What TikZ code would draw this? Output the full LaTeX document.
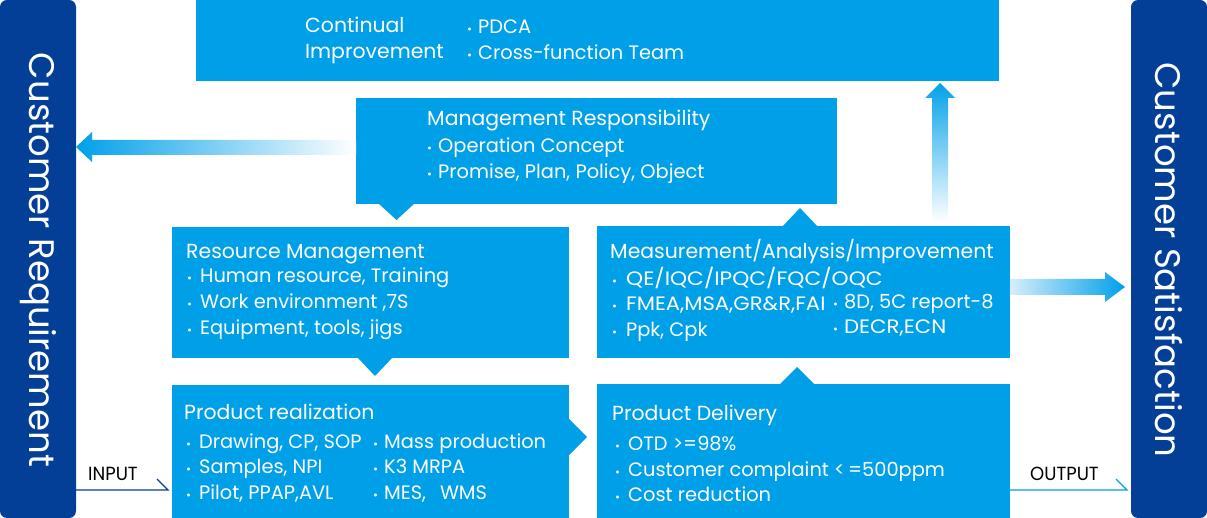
\documentclass[tikz,border=0pt]{standalone}
\usepackage{fontspec}
\setmainfont{Poppins}
\usetikzlibrary{calc}
\definecolor{cblue}{HTML}{00A0E9}
\definecolor{dblue}{HTML}{043F97}
\definecolor{lblue}{HTML}{D6EEFB}
\newcommand{\bu}[1][5pt]{{\fontsize{12}{12}\selectfont\textbullet}\hspace{#1}}
\newcommand{\wide}[2]{\scalebox{#1}[1]{#2}}
\begin{document}
\begin{tikzpicture}[x=1pt,y=-1pt,
  box/.style={fill=cblue, draw=none, inner sep=0pt, outer sep=0pt, anchor=north west},
  bar/.style={fill=dblue, draw=none, inner sep=0pt, outer sep=0pt, anchor=north west, rounded corners=7pt, minimum width=76pt, minimum height=518pt},
  bartxt/.style={text=white, rotate=-90, font=\fontsize{35.5}{40}\selectfont, inner sep=0pt},
  tt/.style={text=white, anchor=base west, inner sep=0pt, font=\fontsize{20.4}{24}\selectfont},
  it/.style={text=white, anchor=base west, inner sep=0pt, font=\fontsize{19.4}{24}\selectfont},
  lab/.style={text=black, anchor=base west, inner sep=0pt, font=\fontsize{19}{22}\selectfont},
  tri/.style={fill=cblue, draw=none}
]
\useasboundingbox (0,0) rectangle (1207,518);

% side bars
\node[bar] (lbar) at (0,0) {};
\node[bar] (rbar) at (1131,0) {};
\node[bartxt] (lbt) at (38,260) {Customer Requirement};
\node[bartxt] (rbt) at (1169,260) {Customer Satisfaction};

% boxes
\node[box, minimum width=803pt, minimum height=81pt] (ci) at (196,0) {};
\node[box, minimum width=481pt, minimum height=106pt] (mr) at (356,98) {};
\node[box, minimum width=397pt, minimum height=131pt] (rm) at (172,227) {};
\node[box, minimum width=413pt, minimum height=132pt] (mai) at (597,226) {};
\node[box, minimum width=397pt, minimum height=133pt] (pr) at (172,385) {};
\node[box, minimum width=413pt, minimum height=134pt] (pd) at (597,384) {};

% pointer triangles
\fill[tri] (378,203) -- (415,203) -- (396.5,220) -- cycle;
\fill[tri] (357,357) -- (393,357) -- (375,376) -- cycle;
\fill[tri] (782,227) -- (818,227) -- (800,208) -- cycle;
\fill[tri] (568,418) -- (587,437) -- (568,456) -- cycle;
\fill[tri] (779,385) -- (815,385) -- (797,367) -- cycle;

% gradient arrows
\shade[left color=cblue, right color=white]
  (lbar.east |- 0,147) -- (92,132) -- (92,140) -- (mr.west |- 0,140) -- (mr.west |- 0,155) -- (92,155) -- (92,162) -- cycle;
\shade[top color=cblue, bottom color=white]
  (ci.south -| 940,0) ++(0,2) -- (955,98) -- (948,98) -- (948,222) -- (932,222) -- (932,98) -- (925,98) -- cycle;
\coordinate (rtip) at ($(rbar.west |- 0,287)+(-6,0)$);
\shade[left color=lblue, right color=cblue]
  (mai.east |- 0,279) -- (1105,279) -- (1105,272) -- (rtip) -- (1105,302) -- (1105,295) -- (mai.east |- 0,295) -- cycle;

% input / output
\draw[dblue, line width=1.3pt] (lbar.east |- 0,490) -- ($(pr.west |- 0,490)+(-4,0)$) -- ++(-11,-11);
\draw[cblue, line width=1.3pt] (pd.east |- 0,490) -- ($(rbar.west |- 0,490)+(-4,0)$) -- ++(-11,-11);
\node[lab] (inl) at (88,480) {\wide{0.95}{INPUT}};
\node[lab] (outl) at (1030,480) {\wide{0.95}{OUTPUT}};

% texts: continual improvement
\node[tt] (ci1) at (305,33) {Continual};
\node[tt] (ci2) at (305,59) {Improvement};
\node[it] (ci3) at (467,34) {\bu[6pt]PDCA};
\node[it] (ci4) at (467,60) {\bu[6pt]Cross-function Team};

% management responsibility
\node[tt] (mr1) at (427,126) {Management Responsibility};
\node[it] (mr2) at (427,153) {\bu[6pt]Operation Concept};
\node[it] (mr3) at (427,179) {\bu[6pt]Promise, Plan, Policy, Object};

% resource management
\node[tt] (rm1) at (186,259) {Resource Management};
\node[it] (rm2) at (187,283) {\bu[8pt]Human resource, Training};
\node[it] (rm3) at (187,309) {\bu[8pt]Work environment ,7S};
\node[it] (rm4) at (187,335) {\bu[8pt]Equipment, tools, jigs};

% measurement
\node[tt] (ma1) at (610,259) {Measurement/Analysis/Improvement};
\node[it] (ma2) at (612,286) {\bu[9pt]\wide{1.12}{QE/IQC/IPQC/FQC/OQC}};
\node[it] (ma3) at (612,311) {\bu[9pt]\wide{1.09}{FMEA,MSA,GR\&R,FAI}};
\node[it] (ma4) at (612,337) {\bu[9pt]Ppk, Cpk};
\node[it] (ma5) at (833,309) {\bu[6pt]8D, 5C report-8};
\node[it] (ma6) at (833,334) {\bu[6pt]\wide{1.1}{DECR,ECN}};

% product realization
\node[tt] (pr1) at (184,419) {Product realization};
\node[it] (pr2) at (186,448) {\bu[8pt]Drawing, CP, SOP};
\node[it] (pr3) at (186,473) {\bu[8pt]Samples, NPI};
\node[it] (pr4) at (186,499) {\bu[8pt]Pilot, PPAP,AVL};
\node[it] (pr5) at (373,448) {\bu[6pt]Mass production};
\node[it] (pr6) at (373,473) {\bu[6pt]K3 MRPA};
\node[it] (pr7) at (373,499) {\bu[6pt]MES,\hspace{14pt}WMS};

% product delivery
\node[tt] (pd1) at (612,420) {Product Delivery};
\node[it] (pd2) at (615,450) {\bu[8pt]OTD >=98\%};
\node[it] (pd3) at (615,476) {\bu[8pt]Customer complaint <\,=500ppm};
\node[it] (pd4) at (615,501) {\bu[8pt]Cost reduction};
\end{tikzpicture}
\end{document}
